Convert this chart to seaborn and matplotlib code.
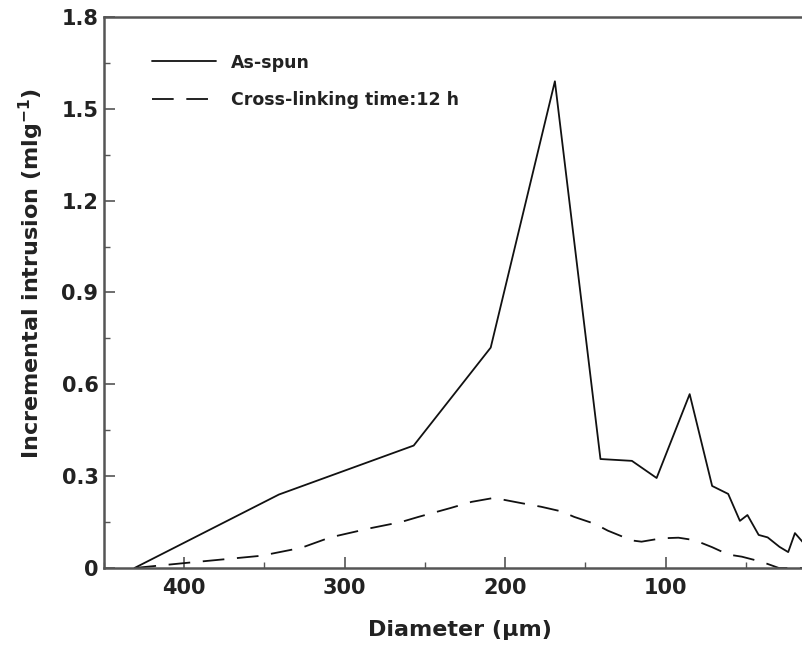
import matplotlib
matplotlib.use("Agg")
import matplotlib.pyplot as plt
from matplotlib.ticker import MultipleLocator, FuncFormatter
import seaborn as sns
import pandas as pd

# Pore-size distribution: incremental intrusion vs. pore diameter
as_spun_diameter = [431, 341, 257, 209, 169, 140.6, 121, 105.6, 85, 71, 61,
                    53.7, 49, 42, 36.4, 29, 23.6, 19.4, 13.75]
as_spun_intrusion = [0.0, 0.24, 0.40, 0.72, 1.59, 0.356, 0.35, 0.294, 0.568,
                     0.268, 0.242, 0.154, 0.173, 0.108, 0.10, 0.069, 0.052,
                     0.114, 0.08]

crosslinked_diameter = [431, 400, 352, 327, 309, 284, 265, 254, 234, 221, 207,
                        190, 177.5, 165, 157, 144, 136, 121, 115, 102.5, 92,
                        82, 71, 61, 52.5, 40, 29.4, 14]
crosslinked_intrusion = [0.0, 0.016, 0.04, 0.066, 0.10, 0.13, 0.15, 0.167,
                         0.196, 0.216, 0.229, 0.212, 0.20, 0.185, 0.167, 0.144,
                         0.122, 0.09, 0.086, 0.097, 0.099, 0.091, 0.068, 0.044,
                         0.037, 0.02, 0.0, 0.0]

series_labels = ["As-spun", "Cross-linking time:12 h"]
x_ticks = [400, 300, 200, 100]
y_ticks = [0, 0.3, 0.6, 0.9, 1.2, 1.5, 1.8]

df = pd.concat([
    pd.DataFrame({"Diameter": as_spun_diameter, "Intrusion": as_spun_intrusion,
                  "Sample": series_labels[0]}),
    pd.DataFrame({"Diameter": crosslinked_diameter, "Intrusion": crosslinked_intrusion,
                  "Sample": series_labels[1]}),
])

sns.set_theme(style="ticks")
plt.rcParams["font.family"] = ["DejaVu Sans"]
plt.rcParams["font.weight"] = "bold"
plt.rcParams["mathtext.fontset"] = "dejavusans"

fig = plt.figure(figsize=(8.02, 6.5), dpi=100)
ax = fig.add_axes([104 / 802, 82 / 650, 700 / 802, 551 / 650])

sns.lineplot(data=df, x="Diameter", y="Intrusion", style="Sample",
             style_order=series_labels, dashes={series_labels[0]: "",
                                                series_labels[1]: (12, 7)},
             color="#111111", linewidth=1.3, estimator=None, sort=False, ax=ax)

ax.set_xlim(450, 13.75)
ax.set_ylim(0, 1.8)
ax.set_xticks(x_ticks)
ax.xaxis.set_minor_locator(MultipleLocator(50))
ax.set_yticks(y_ticks)
ax.yaxis.set_minor_locator(MultipleLocator(0.15))
ax.yaxis.set_major_formatter(FuncFormatter(lambda v, p: "0" if v == 0 else f"{v:.1f}"))

ax.tick_params(axis="both", which="major", direction="in", length=8, width=1.2,
               color="#555555", labelsize=15, labelcolor="#222222")
ax.tick_params(axis="x", which="major", pad=7)
ax.tick_params(axis="y", which="major", pad=4)
ax.tick_params(axis="both", which="minor", direction="in", length=4, width=1.0,
               color="#555555")
for lab in ax.get_xticklabels() + ax.get_yticklabels():
    lab.set_fontweight("bold")

for side in ["left", "bottom", "top"]:
    ax.spines[side].set_color("#555555")
    ax.spines[side].set_linewidth(1.8)
ax.spines["right"].set_visible(False)

ax.set_xlabel("Diameter (μm)", fontsize=16, fontweight="bold", color="#222222")
ax.set_ylabel(r"Incremental intrusion (mlg$^{\mathbf{-1}}$)", fontsize=16,
              fontweight="bold", color="#222222")
ax.xaxis.set_label_coords(0.509, -0.095)
ax.yaxis.set_label_coords(-0.083, 0.534)

leg = ax.legend(loc="upper left", bbox_to_anchor=(0.046, 0.962), frameon=False,
                handlelength=3.7, handletextpad=0.85, labelspacing=1.1,
                prop={"size": 12.5, "weight": "bold"})
for text in leg.get_texts():
    text.set_color("#222222")

fig.savefig("out.png", dpi=100)
